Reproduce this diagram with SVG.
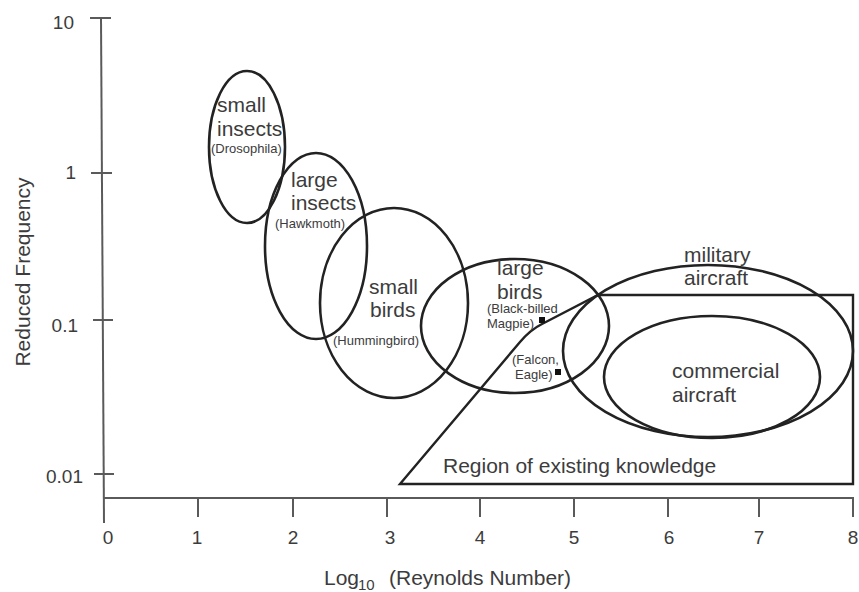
<svg xmlns="http://www.w3.org/2000/svg" width="859" height="592" viewBox="0 0 859 592">
<style>
.ax{stroke:#5a5a5a;stroke-width:2;fill:none}
.el{stroke:#222;stroke-width:2.6;fill:none}
.rg{stroke:#222;stroke-width:2.4;fill:none;stroke-linejoin:miter}
text{font-family:"Liberation Sans",Arial,sans-serif;fill:#3c3c3c}
.tk{font-size:19px}
.lb{font-size:21px}
.sm{font-size:13px}
.at{font-size:21px}
</style>
<rect width="859" height="592" fill="#fff"/>
<g id="axes">
<line class="ax" x1="101" y1="18" x2="104" y2="523"/>
<line class="ax" x1="104" y1="498" x2="854" y2="498"/>
<line class="ax" x1="90" y1="18" x2="111" y2="18"/>
<line class="ax" x1="91" y1="173" x2="112" y2="173"/>
<line class="ax" x1="93" y1="320" x2="113" y2="320"/>
<line class="ax" x1="94" y1="474" x2="114" y2="474"/>
<line class="ax" x1="198" y1="498" x2="198" y2="517"/>
<line class="ax" x1="293" y1="498" x2="293" y2="517"/>
<line class="ax" x1="387" y1="498" x2="387" y2="517"/>
<line class="ax" x1="480" y1="498" x2="480" y2="517"/>
<line class="ax" x1="574" y1="498" x2="574" y2="517"/>
<line class="ax" x1="668" y1="498" x2="668" y2="517"/>
<line class="ax" x1="759" y1="498" x2="759" y2="517"/>
<line class="ax" x1="853" y1="498" x2="853" y2="517"/>
<g class="tk">
<text x="74" y="29" text-anchor="end">10</text>
<text x="76" y="179" text-anchor="end">1</text>
<text x="78" y="332" text-anchor="end">0.1</text>
<text x="83" y="483" text-anchor="end">0.01</text>
<g text-anchor="middle">
<text x="108" y="544">0</text>
<text x="197" y="544">1</text>
<text x="293" y="544">2</text>
<text x="390" y="544">3</text>
<text x="480" y="544">4</text>
<text x="574" y="544">5</text>
<text x="669" y="544">6</text>
<text x="759" y="544">7</text>
<text x="853" y="544">8</text>
</g>
</g>
<text class="at" x="324" y="585">Log<tspan x="358" font-size="15" dy="5">10</tspan><tspan x="389" dy="-5">(Reynolds Number)</tspan></text>
<text class="at" transform="translate(30,272) rotate(-90)" text-anchor="middle">Reduced Frequency</text>
</g>
<g id="connectors"></g>
<g id="region">
<path class="rg" d="M400,484 L520,342 Q530,330 542,324 L598,295 L853,295 L853,484 Z"/>
<text class="lb" x="443" y="473">Region of existing knowledge</text>
</g>
<g id="small-insects">
<ellipse class="el" cx="247" cy="147" rx="38" ry="76"/>
<text class="lb" x="217" y="112">small</text>
<text class="lb" x="217" y="136">insects</text>
<text class="sm" x="211" y="153">(Drosophila)</text>
</g>
<g id="large-insects">
<ellipse class="el" cx="316" cy="246" rx="51" ry="93"/>
<text class="lb" x="291" y="187">large</text>
<text class="lb" x="291" y="210">insects</text>
<text class="sm" x="275" y="228">(Hawkmoth)</text>
</g>
<g id="small-birds">
<ellipse class="el" cx="394" cy="303" rx="74" ry="95"/>
<text class="lb" x="369" y="294">small</text>
<text class="lb" x="370" y="317">birds</text>
<text class="sm" x="333" y="345">(Hummingbird)</text>
</g>
<g id="large-birds">
<ellipse class="el" cx="515" cy="326" rx="94" ry="67"/>
<text class="lb" x="497" y="275">large</text>
<text class="lb" x="497" y="299">birds</text>
<text class="sm" x="487" y="313">(Black-billed</text>
<text class="sm" x="487" y="328">Magpie)</text>
<rect x="539" y="317" width="6" height="6" fill="#111"/>
<text class="sm" x="512" y="364">(Falcon,</text>
<text class="sm" x="515" y="379">Eagle)</text>
<rect x="555" y="369" width="6" height="6" fill="#111"/>
</g>
<g id="military-aircraft">
<ellipse class="el" cx="708" cy="351" rx="145" ry="86"/>
<text class="lb" x="684" y="262">military</text>
<text class="lb" x="684" y="285">aircraft</text>
</g>
<g id="commercial-aircraft">
<ellipse class="el" cx="712" cy="377" rx="108" ry="61"/>
<text class="lb" x="672" y="378">commercial</text>
<text class="lb" x="672" y="402">aircraft</text>
</g>
</svg>
